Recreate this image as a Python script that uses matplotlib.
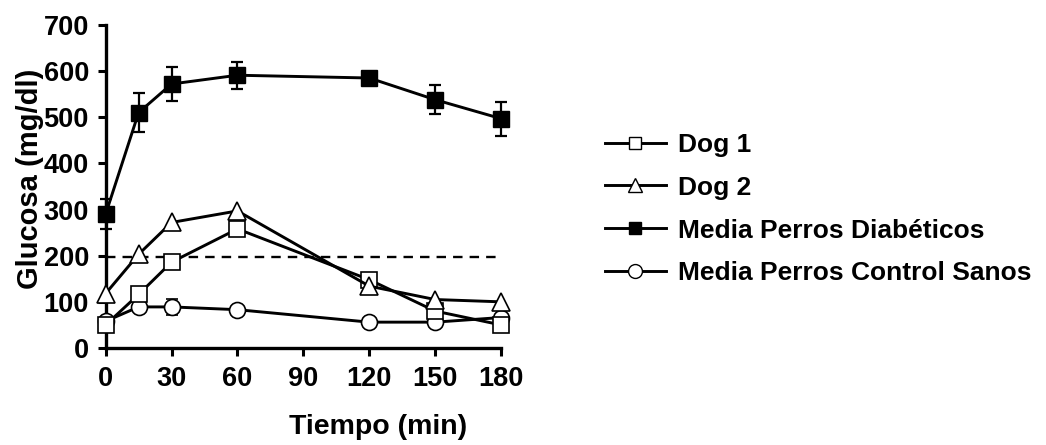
import matplotlib.pyplot as plt
from matplotlib.lines import Line2D

plt.rcParams["font.family"] = ["Liberation Sans", "DejaVu Sans"]
plt.rcParams["font.weight"] = "bold"

time_min = [0, 15, 30, 60, 120, 150, 180]
dog1 = [50, 116, 186, 258, 148, 80, 50]
dog2 = [118, 203, 272, 297, 134, 105, 100]
diabetic_mean = [290, 510, 572, 591, 585, 538, 497]
diabetic_err = [32, 43, 37, 29, 0, 32, 37]
control_mean = [58, 89, 89, 83, 56, 56, 66]
control_err = [10, 12, 18, 8, 5, 5, 8]
threshold = 197

labels = ["Dog 1", "Dog 2", "Media Perros Diabéticos", "Media Perros Control Sanos"]

fig = plt.figure(figsize=(10.46, 4.45), dpi=100)
ax = fig.add_axes([0.101, 0.218, 0.378, 0.726])

lw = 2.1
ms = 11.5
common = dict(color="black", lw=lw, clip_on=False, capsize=4, elinewidth=1.6,
              capthick=1.6)

ax.axhline(threshold, color="black", lw=1.7, ls=(0, (4, 3)), zorder=1)
ax.errorbar(time_min, diabetic_mean, yerr=diabetic_err, marker="s", ms=ms,
            mfc="black", mec="black", zorder=3, **common)
ax.errorbar(time_min, control_mean, yerr=control_err, marker="o", ms=ms,
            mfc="white", mec="black", mew=1.2, zorder=4, **common)
ax.plot(time_min, dog1, marker="s", ms=ms, mfc="white", mec="black", mew=1.2,
        color="black", lw=lw, clip_on=False, zorder=5)
ax.plot(time_min, dog2, marker="^", ms=ms + 1, mfc="white", mec="black", mew=1.2,
        color="black", lw=lw, clip_on=False, zorder=5)

ax.set_xlim(0, 180)
ax.set_ylim(0, 700)
ax.set_xticks(range(0, 181, 30))
ax.set_yticks(range(0, 701, 100))
for side in ["top", "right"]:
    ax.spines[side].set_visible(False)
for side in ["left", "bottom"]:
    ax.spines[side].set_linewidth(2.4)
ax.tick_params(width=2.2, length=6, labelsize=19.5)
ax.tick_params(axis="x", pad=7)
ax.tick_params(axis="y", pad=6)
ax.set_xlabel("Tiempo (min)", fontsize=20.5, fontweight="bold")
ax.set_ylabel("Glucosa (mg/dl)", fontsize=21, fontweight="bold")
ax.xaxis.set_label_coords(0.69, -0.205)
ax.yaxis.set_label_coords(-0.155, 0.523)

handles = [
    Line2D([], [], color="black", lw=lw, marker="s", ms=9, mfc="white", mec="black"),
    Line2D([], [], color="black", lw=lw, marker="^", ms=10, mfc="white", mec="black"),
    Line2D([], [], color="black", lw=lw, marker="s", ms=9, mfc="black", mec="black"),
    Line2D([], [], color="black", lw=lw, marker="o", ms=10, mfc="white", mec="black"),
]
fig.legend(handles, labels, loc="upper left", bbox_to_anchor=(605 / 1046, 0.7015),
           frameon=False, handlelength=2.3, labelspacing=0.715,
           handletextpad=0.45, borderpad=0, borderaxespad=0,
           prop={"weight": "bold", "size": 19})

fig.savefig("out.png", dpi=100)
